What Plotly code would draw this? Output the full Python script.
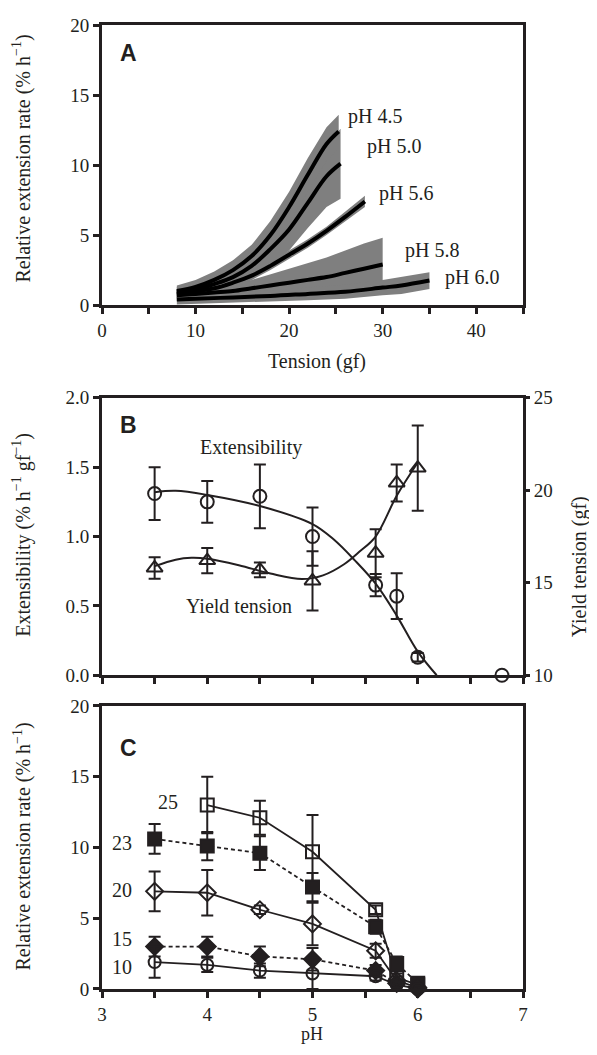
import plotly.graph_objects as go

# ---------------- Panel A data ----------------
t45 = [8, 10, 12, 14, 16, 18, 20, 22, 24, 25.3]
c45 = [1.0, 1.3, 1.8, 2.5, 3.5, 5.0, 7.0, 9.3, 11.5, 12.4]
w45 = [0.4, 0.5, 0.6, 0.7, 0.8, 1.0, 1.1, 1.2, 1.2, 1.2]

t50 = [8, 10, 12, 14, 16, 18, 20, 22, 24, 25.5]
c50 = [0.9, 1.1, 1.5, 2.0, 2.8, 4.0, 5.4, 7.3, 9.2, 10.1]
w50 = [0.4, 0.5, 0.6, 0.8, 1.0, 1.2, 1.5, 1.8, 2.2, 2.5]

t56 = [8, 10, 12, 14, 16, 18, 20, 22, 24, 26, 28.1]
c56 = [0.8, 1.0, 1.2, 1.6, 2.1, 2.8, 3.6, 4.4, 5.3, 6.3, 7.4]
w56 = [0.3, 0.3, 0.3, 0.3, 0.3, 0.3, 0.3, 0.3, 0.3, 0.35, 0.4]

t58 = [8, 10, 12, 14, 16, 18, 20, 22, 24, 26, 28, 30]
c58 = [0.7, 0.8, 0.9, 1.0, 1.2, 1.4, 1.6, 1.8, 2.0, 2.3, 2.6, 2.9]
w58 = [0.4, 0.4, 0.5, 0.5, 0.6, 0.8, 1.0, 1.2, 1.4, 1.6, 1.8, 1.9]

t60 = [8, 10, 14, 18, 22, 26, 30, 32, 35]
c60 = [0.4, 0.45, 0.55, 0.65, 0.8, 0.95, 1.25, 1.4, 1.75]
w60 = [0.35, 0.35, 0.35, 0.4, 0.45, 0.5, 0.55, 0.6, 0.6]

a_labels = ["pH 4.5", "pH 5.0", "pH 5.6", "pH 5.8", "pH 6.0"]
a_label_x = [26.1, 28.1, 29.4, 32.2, 36.4]
a_label_y = [13.5, 11.3, 8.0, 3.9, 2.0]

# ---------------- Panel B data ----------------
ph_b = [3.5, 4.0, 4.5, 5.0, 5.6, 5.8, 6.0]
ext = [1.31, 1.25, 1.29, 1.00, 0.65, 0.57, 0.13]
ext_err = [0.19, 0.15, 0.23, 0.21, 0.08, 0.165, 0.03]
ext_extra_ph = [6.8]
ext_extra = [0.0]
yt = [15.8, 16.2, 15.7, 15.1, 16.6, 20.4, 21.2]
yt_err = [0.58, 0.68, 0.40, 1.6, 1.3, 1.0, 2.3]

ext_fit_ph = [3.5, 3.7, 4.0, 4.5, 5.0, 5.2, 5.4, 5.6, 5.8, 6.0, 6.18]
ext_fit = [1.32, 1.33, 1.30, 1.22, 1.09, 0.98, 0.83, 0.66, 0.43, 0.17, 0.0]
yt_fit_ph = [3.5, 3.7, 3.85, 4.0, 4.3, 4.6, 4.9, 5.1, 5.3, 5.45, 5.6, 5.8, 6.0]
yt_fit = [15.9, 16.25, 16.35, 16.3, 15.95, 15.5, 15.2, 15.4, 16.0, 16.7, 17.5, 19.7, 21.5]

# ---------------- Panel C data ----------------
ph_c = [3.5, 4.0, 4.5, 5.0, 5.6, 5.8, 6.0]
ph_c25 = [4.0, 4.5, 5.0, 5.6, 5.8, 6.0]
r25 = [13.0, 12.1, 9.7, 5.6, 0.8, 0.3]
e25 = [2.0, 1.2, 2.6, 0.3, 0.3, 0.2]
r23 = [10.6, 10.1, 9.6, 7.2, 4.4, 1.8, 0.4]
e23 = [1.05, 1.0, 1.2, 1.0, 0.5, 0.5, 0.2]
r20 = [6.9, 6.8, 5.6, 4.6, 2.7, 0.6, 0.1]
e20 = [1.4, 1.6, 0.3, 1.5, 0.5, 0.3, 0.1]
r15 = [3.0, 3.0, 2.3, 2.1, 1.3, 0.4, 0.0]
e15 = [0.7, 0.7, 0.7, 0.8, 0.4, 0.2, 0.1]
r10 = [1.9, 1.7, 1.3, 1.1, 0.9, 0.3, 0.0]
e10 = [1.1, 0.5, 0.5, 1.1, 0.3, 0.2, 0.1]
c_labels = ["25", "23", "20", "15", "10"]
c_label_x = [3.63, 3.19, 3.19, 3.19, 3.19]
c_label_y = [13.2, 10.3, 7.0, 3.55, 1.55]

# ---------------- styling ----------------
INK = "#231f20"
GRAY = "#7f7f7f"
SERIF = "Liberation Serif, Times New Roman, serif"
SANS = "Liberation Sans, Arial, sans-serif"
FS = 20     # annotation texts
TKS = 19    # tick labels
TFS = 20    # axis titles

# page geometry (the html body adds an 8px margin around the figure)
OFF = 8
PAGE_W, PAGE_H = 597, 1055
W, H = PAGE_W - OFF, PAGE_H - 2 * OFF
PLOT_L, PLOT_R, PLOT_T, PLOT_B = 102, 523, 15, 989
L = PLOT_L - OFF
T = PLOT_T - OFF
R = W - (PLOT_R - OFF)
B = H - (PLOT_B - OFF)
PH = PLOT_B - PLOT_T
PW = PLOT_R - PLOT_L


def py(y):
    return (PLOT_B - y) / PH


def px(x):
    return (x - PLOT_L) / PW


def note(x, y, text, font, ref=("paper", "paper"), angle=0, xanchor="center", yanchor="middle"):
    fig.add_annotation(x=x, y=y, xref=ref[0], yref=ref[1], text=text, showarrow=False,
                       textangle=angle, xanchor=xanchor, yanchor=yanchor, font=font)


fig = go.Figure()

# Panel A bands and lines
for t, c, w in [(t58, c58, w58), (t60, c60, w60), (t56, c56, w56), (t50, c50, w50), (t45, c45, w45)]:
    up = [ci + wi for ci, wi in zip(c, w)]
    lo = [max(ci - wi, 0) for ci, wi in zip(c, w)]
    fig.add_trace(go.Scatter(x=t + t[::-1], y=up + lo[::-1], fill="toself",
                             fillcolor=GRAY, line=dict(width=0), mode="lines",
                             xaxis="x", yaxis="y", showlegend=False, hoverinfo="skip"))
for t, c in [(t45, c45), (t50, c50), (t56, c56), (t58, c58), (t60, c60)]:
    fig.add_trace(go.Scatter(x=t, y=c, mode="lines", line=dict(color="black", width=4, shape="spline"),
                             xaxis="x", yaxis="y", showlegend=False))
text_font = dict(family=SERIF, size=FS, color=INK)
for txt, x, y in zip(a_labels, a_label_x, a_label_y):
    note(x, y, txt, text_font, ref=("x", "y"), xanchor="left")

# Panel B
fig.add_trace(go.Scatter(x=ext_fit_ph, y=ext_fit, mode="lines", line=dict(color=INK, width=2, shape="spline"),
                         xaxis="x2", yaxis="y2", showlegend=False))
fig.add_trace(go.Scatter(x=yt_fit_ph, y=yt_fit, mode="lines", line=dict(color=INK, width=2, shape="spline"),
                         xaxis="x2", yaxis="y3", showlegend=False))
fig.add_trace(go.Scatter(x=ph_b, y=ext, mode="markers",
                         marker=dict(symbol="circle-open", size=13, color=INK, line=dict(width=2)),
                         error_y=dict(type="data", array=ext_err, color=INK, thickness=2, width=6),
                         xaxis="x2", yaxis="y2", showlegend=False, cliponaxis=False))
fig.add_trace(go.Scatter(x=ext_extra_ph, y=ext_extra, mode="markers",
                         marker=dict(symbol="circle-open", size=13, color=INK, line=dict(width=2)),
                         xaxis="x2", yaxis="y2", showlegend=False, cliponaxis=False))
fig.add_trace(go.Scatter(x=ph_b, y=yt, mode="markers",
                         marker=dict(symbol="triangle-up-open", size=14, color=INK, line=dict(width=2)),
                         error_y=dict(type="data", array=yt_err, color=INK, thickness=2, width=6),
                         xaxis="x2", yaxis="y3", showlegend=False, cliponaxis=False))
note(4.42, 1.645, "Extensibility", text_font, ref=("x2", "y2"))
note(4.30, 0.50, "Yield tension", text_font, ref=("x2", "y2"))

# Panel C
series = [
    (ph_c25, r25, e25, "square-open", "solid", 13),
    (ph_c, r23, e23, "square", "dash", 13),
    (ph_c, r20, e20, "diamond-open", "solid", 13),
    (ph_c, r15, e15, "diamond", "dash", 13),
    (ph_c, r10, e10, "circle-open", "solid", 12),
]
for xs, ys, es, sym, dash, sz in series:
    fig.add_trace(go.Scatter(x=xs, y=ys, mode="lines+markers",
                             line=dict(color=INK, width=1.8, dash="4px,3px" if dash == "dash" else "solid"),
                             marker=dict(symbol=sym, size=sz, color=INK, line=dict(width=2, color=INK)),
                             error_y=dict(type="data", array=es, color=INK, thickness=2, width=6),
                             xaxis="x3", yaxis="y4", showlegend=False, cliponaxis=False))
for txt, x, y in zip(c_labels, c_label_x, c_label_y):
    note(x, y, txt, text_font, ref=("x3", "y4"))

# Panel letters
for letter, ypix in [("A", 43), ("B", 419), ("C", 745)]:
    note(px(128), py(ypix), "<b>%s</b>" % letter, dict(family=SANS, size=23, color=INK))

# Axis titles
title_font = dict(family=SERIF, size=TFS, color=INK)
note(px(317), py(355), "Tension (gf)", title_font)
note(px(312), py(PAGE_H - OFF), "pH", dict(family=SERIF, size=18, color=INK), yanchor="bottom")
note(px(22), py(150), "Relative extension rate (% h<sup>−1</sup>)", title_font, angle=-90)
note(px(22), py(530), "Extensibility (% h<sup>−1</sup> gf<sup>−1</sup>)", title_font, angle=-90)
note(px(22), py(845), "Relative extension rate (% h<sup>−1</sup>)", title_font, angle=-90)
note(px(579), py(563), "Yield tension (gf)", title_font, angle=-90)

ax_common = dict(showline=True, linecolor=INK, linewidth=3, ticks="outside", ticklen=6,
                 tickwidth=2.5, tickcolor=INK, showgrid=False, zeroline=False,
                 tickfont=dict(family=SERIF, size=TKS, color=INK))
minor_common = dict(ticks="outside", ticklen=6, tickwidth=2.5, tickcolor=INK, showgrid=False)

fig.update_layout(
    width=W, height=H, margin=dict(l=L, r=R, t=T, b=B),
    plot_bgcolor="white", paper_bgcolor="white", showlegend=False,
    xaxis=dict(domain=[0, 1], anchor="y", range=[0, 45], mirror=True, tick0=0, dtick=10,
               minor=dict(dtick=5, **minor_common), **ax_common),
    yaxis=dict(domain=[py(298), py(15)], anchor="x", range=[0, 20], dtick=5, mirror=True, **ax_common),
    xaxis2=dict(domain=[0, 1], anchor="y2", range=[3, 7], mirror=True, tick0=3, dtick=0.5,
                showticklabels=False, **ax_common),
    yaxis2=dict(domain=[py(672), py(391.7)], anchor="x2", range=[0, 2], dtick=0.5, tickformat=".1f", **ax_common),
    yaxis3=dict(overlaying="y2", anchor="x2", side="right", range=[10, 25], dtick=5,
                **{**ax_common, "ticklen": 4}),
    xaxis3=dict(domain=[0, 1], anchor="y4", range=[3, 7], mirror=True, tick0=3, dtick=1,
                minor=dict(dtick=0.5, **minor_common), **ax_common),
    yaxis4=dict(domain=[0, py(703)], anchor="x3", range=[0, 20], dtick=5, mirror=True, **ax_common),
)

fig.write_html("out.html")
